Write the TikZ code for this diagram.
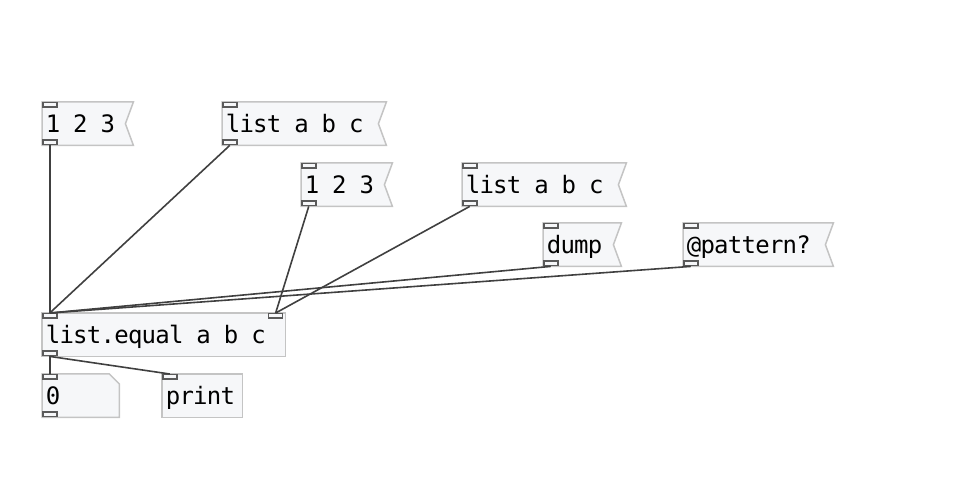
\documentclass[tikz,border=0pt]{standalone}
\usepackage{fontspec}
\usetikzlibrary{backgrounds}
\newfontfamily\pdfont{DejaVu Sans Mono}
\newcommand\pdtext{\pdfont\fontsize{24}{27}\selectfont}
% one fixed cell per character
\makeatletter
\newcommand\pdmono[1]{\@tfor\pd@c:=#1\do{\makebox[13.7pt][c]{\pd@c}}}
\makeatother
\definecolor{boxgray}{RGB}{196,196,196}
\definecolor{boxfill}{RGB}{246,247,249}
\definecolor{portgray}{RGB}{90,90,90}
\definecolor{wiregray}{RGB}{64,64,64}

\begin{document}
\begin{tikzpicture}[x=1pt, y=-1pt,
	pdbox/.style={anchor=north west, minimum height=43pt, inner xsep=4pt, inner ysep=0pt,
		text height=17.5pt, text depth=0pt, align=left, font=\pdtext},
	outline/.style={draw=boxgray, fill=boxfill, line width=1.5pt, line join=miter},
	port/.style={draw=portgray, fill=boxfill, line width=1.5pt, minimum width=14pt, minimum height=4.5pt, inner sep=0pt},
	wire/.style={draw=wiregray, line width=1.6pt}]

	\useasboundingbox (0,0) rectangle (967,478);

	% Messages
	\node[pdbox, text width=83pt] (m1) at (42,102) {\pdmono{1~2~3}};
	\node[pdbox, text width=156pt] (m2) at (222,102) {\pdmono{list~a~b~c}};
	\node[pdbox, text width=83pt] (m3) at (301,163) {\pdmono{1~2~3}};
	\node[pdbox, text width=156pt] (m4) at (462,163) {\pdmono{list~a~b~c}};
	\node[pdbox, text width=70pt] (m5) at (543,223) {\pdmono{dump}};
	\node[pdbox, text width=142pt] (m6) at (683,223) {\pdmono{@pattern?}};

	% Objects
	\node[pdbox, text width=235pt] (eq) at (42,313) {\pdmono{list.equal~a~b~c}};
	\node[pdbox, text width=69pt] (atom) at (42,374) {\pdmono{0}};
	\node[pdbox, text width=72pt] (prt) at (162,374) {\pdmono{print}};

	% Box outlines
	\begin{scope}[on background layer]
		\foreach \m in {m1,m2,m3,m4,m5,m6}
			\draw[outline] (\m.north west) -- (\m.north east) -- ([xshift=-8pt]\m.east)
				-- (\m.south east) -- (\m.south west) -- cycle;
		\draw[outline] (eq.north west) rectangle (eq.south east);
		\draw[outline] (prt.north west) rectangle (prt.south east);
		\draw[outline] (atom.north west) -- ([xshift=-10pt]atom.north east)
			-- ([yshift=-10pt]atom.north east) -- (atom.south east) -- (atom.south west) -- cycle;
	\end{scope}

	% Inlets and outlets
	\foreach \m in {m1,m2,m3,m4,m5,m6,eq,atom,prt}
		\node[port, anchor=north west] (\m-in) at (\m.north west) {};
	\foreach \m in {m1,m2,m3,m4,m5,m6,eq,atom}
		\node[port, anchor=south west] (\m-out) at (\m.south west) {};
	\node[port, anchor=north east] (eq-right) at ([xshift=-2pt]eq.north east) {};

	% Connections
	\foreach \m in {m1,m2,m5,m6}
		\draw[wire] (\m-out.south) -- (eq-in.north);
	\draw[wire] (m3-out.south) -- (eq-right.north);
	\draw[wire] (m4-out.south) -- (eq-right.north);
	\draw[wire] (eq-out.south) -- (atom-in.north);
	\draw[wire] (eq-out.south) -- (prt-in.north);

\end{tikzpicture}
\end{document}
